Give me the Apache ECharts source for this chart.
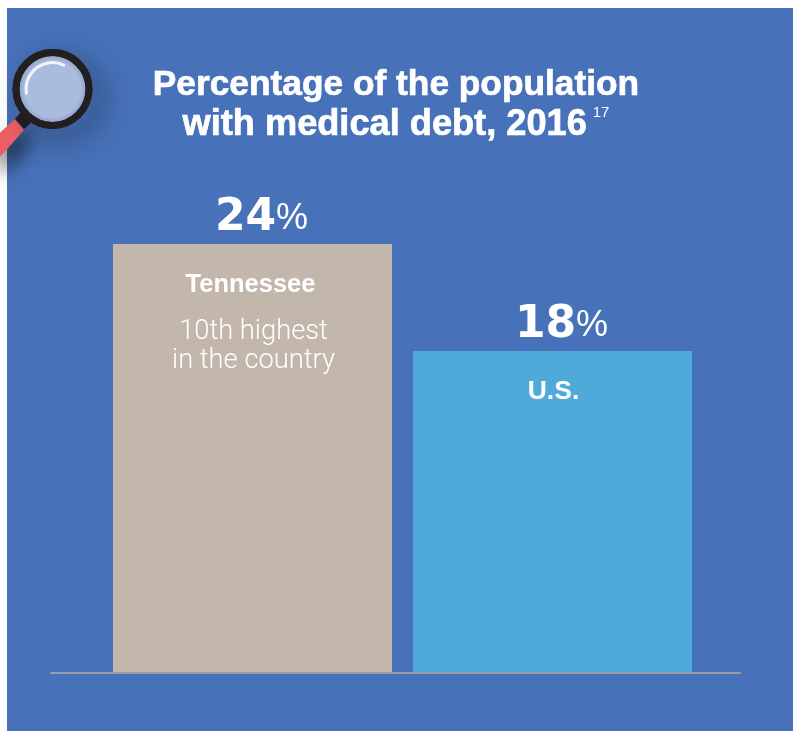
<!DOCTYPE html>
<html><head><meta charset="utf-8">
<style>html,body{margin:0;padding:0;background:#fff}#c{width:793px;height:731px}</style>
<script src="https://cdn.jsdelivr.net/npm/echarts@6/dist/echarts.min.js"></script>
</head><body><div id="c"></div>
<script>
const categories = ['Tennessee', 'U.S.'];
const values = [24, 18];
const notes = ['10th highest\nin the country', ''];
const barColors = ['#C3B7AB', '#50AAD9'];
const titleLine1 = 'Percentage of the population';
const titleLine2 = 'with medical debt, 2016';
const footnote = '17';

const FONT = '"Liberation Sans", Arial, sans-serif';
const chart = echarts.init(document.getElementById('c'), null, {renderer:'canvas'});
const lens = {x:52.5, y:89};
const bold = {fontFamily:FONT,fontWeight:'bold',lineHeight:40,color:'#fff',textBorderColor:'#fff',textBorderWidth:0.7};
chart.setOption({
  animation:false,
  backgroundColor:'#fff',
  title:{
    left:391, top:60, textAlign:'center',
    text:'{t|'+titleLine1+'}\n{u|'+titleLine2+'}{g|}{s|'+footnote+'}',
    textStyle:{rich:{
      t:Object.assign({fontSize:35.3},bold),
      u:Object.assign({fontSize:36.2},bold),
      g:{width:6,height:1},
      s:{fontFamily:'"Liberation Sans Narrow",'+FONT,fontWeight:'normal',fontSize:15,color:'#fff',verticalAlign:'top',lineHeight:26}
    }}
  },
  grid:[
    {left:102.5, width:600, top:30, bottom:59, containLabel:false},
    {left:51, width:689, top:30, bottom:58}
  ],
  xAxis:[
    {type:'category',gridIndex:0,data:categories,axisLine:{show:false},axisTick:{show:false},axisLabel:{show:false}},
    {type:'category',gridIndex:1,data:[''],position:'bottom',axisLine:{show:true,lineStyle:{color:'#9A9AA8',width:2}},axisTick:{show:false},axisLabel:{show:false}}
  ],
  yAxis:[
    {type:'value',gridIndex:0,min:0,max:36,show:false,splitLine:{show:false}},
    {type:'value',gridIndex:1,min:0,max:36,show:false,splitLine:{show:false}}
  ],
  series:[
    {type:'bar',xAxisIndex:0,yAxisIndex:0,barWidth:279,z:3,
     data:values.map((v,i)=>({value:v,itemStyle:{color:barColors[i]}})),
     label:{show:true,position:'top',distance:3,offset:[9,0],
       formatter:p=>'{n|'+p.value+'}{p|%}',
       rich:{n:{fontFamily:'"DejaVu Sans",'+FONT,fontWeight:'bold',fontSize:44,color:'#fff'},
             p:{fontFamily:FONT,fontSize:36,color:'#fff'}}}},
    {type:'bar',xAxisIndex:0,yAxisIndex:0,barWidth:279,barGap:'-100%',z:4,silent:true,
     data:values,itemStyle:{color:'transparent'},
     label:{show:true,position:'insideTop',distance:26,align:'center',offset:[1,0],
       formatter:p=>{
         if(!notes[p.dataIndex]) return '{b|'+categories[p.dataIndex]+'}';
         return '{h|'+categories[p.dataIndex]+'}\n{g|}\n'+notes[p.dataIndex].split('\n').map(l=>'{l|'+l+'}').join('\n');
       },
       rich:{b:{fontFamily:FONT,fontWeight:'bold',fontSize:26.5,lineHeight:30,color:'#fff'},
             h:{fontFamily:FONT,fontWeight:'bold',fontSize:25.5,lineHeight:30,color:'#fff',padding:[0,6,0,0]},
             g:{height:18,lineHeight:18,fontSize:1},
             l:{fontFamily:'Roboto,'+FONT,fontWeight:300,fontSize:27.3,lineHeight:29,color:'#fff'}}}}
  ],
  graphic:{elements:[
    {type:'rect',z:-10,silent:true,shape:{x:7,y:8,width:786,height:723},style:{fill:'#4771B8'}},
    {type:'polygon',z:10,shape:{points:[[15,119],[24,130],[-8,166],[-8,140]]},
      style:{fill:'#EC5F66',shadowBlur:20,shadowColor:'rgba(0,0,0,0.7)',shadowOffsetX:8,shadowOffsetY:10}},
    {type:'polygon',z:11,shape:{points:[[15,119],[21,112],[31,123],[24,129]]},style:{fill:'#231F20'}},
    {type:'circle',z:11,shape:{cx:lens.x,cy:lens.y,r:36.5},
      style:{fill:'none',stroke:'#231F20',lineWidth:7,shadowBlur:26,shadowColor:'rgba(0,0,0,0.6)',shadowOffsetX:10,shadowOffsetY:10}},
    {type:'circle',z:12,shape:{cx:lens.x,cy:lens.y,r:33},
      style:{fill:{type:'radial',x:0.5,y:0.5,r:0.5,colorStops:[{offset:0,color:'#AABCDD'},{offset:0.85,color:'#AABCDD'},{offset:1,color:'#94A6C8'}]}}},
    {type:'circle',z:13,shape:{cx:lens.x,cy:lens.y,r:36.5},style:{fill:'none',stroke:'#231F20',lineWidth:7}},
    {type:'arc',z:14,shape:{cx:lens.x,cy:lens.y,r:26.4,startAngle:2.98,endAngle:5.15,clockwise:true},
      style:{fill:'none',stroke:'#F4F5FA',lineWidth:3,lineCap:'round'}}
  ]}
});
</script></body></html>
